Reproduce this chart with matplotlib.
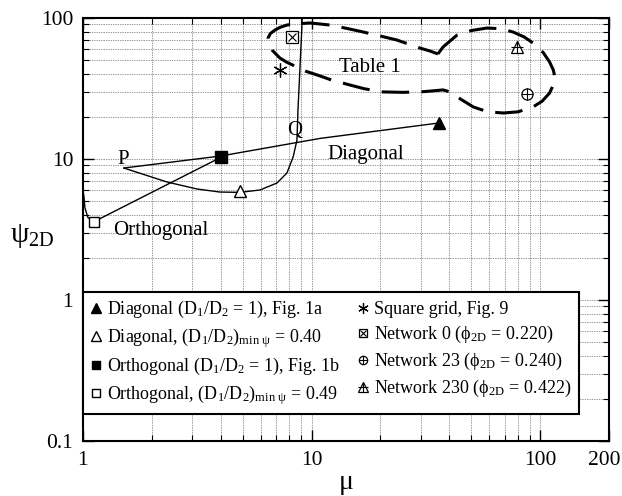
import numpy as np
import matplotlib
matplotlib.use("Agg")
import matplotlib.pyplot as plt
import matplotlib.transforms as mtransforms
from matplotlib.legend_handler import HandlerTuple
from matplotlib.ticker import NullFormatter

# Diagonal arrangement, D1/D2 = 1 (upper branch from P)
diag_mu = [1.51, 4.0, 10.9, 36.0]
diag_psi = [8.63, 10.5, 14.0, 18.0]

# Diagonal arrangement, varying D1/D2 (lower branch from P up through Q)
diag_var_mu = [1.51, 2.33, 3.15, 3.97, 4.86, 5.95, 7.06, 7.8, 8.3, 8.63, 8.72, 8.9, 9.05, 9.1]
diag_var_psi = [8.63, 6.87, 6.13, 5.83, 5.8, 6.03, 6.76, 7.96, 10.3, 13.6, 22.3, 45.0, 80.0, 100.0]

# Orthogonal arrangement
orth_mu = [1.0, 1.01, 1.02, 1.05, 1.12, 4.02]
orth_psi = [6.0, 5.4, 4.5, 3.85, 3.6, 10.3]

# single points
diag_one = (36.0, 18.0)
diag_min = (4.86, 5.9)
orth_one = (4.02, 10.3)
orth_min = (1.12, 3.6)
square_grid = (7.3, 43.0)
network_0 = (8.2, 73.0)
network_23 = (87.5, 29.0)
network_230 = (79.0, 62.0)

# outline of the Table 1 cases
table_mu = [35.7, 37.6, 43.3, 50.0, 58.5, 67.0, 76.0, 85.0, 93.0, 103.0, 110.0, 114.0, 116.0,
            114.0, 110.0, 102.0, 93.0, 80.0, 69.0, 59.0, 51.0, 45.0, 40.3, 37.6,
            33.0, 29.8, 25.0, 20.5, 17.0, 14.7, 12.3, 10.6, 9.4, 8.63, 7.8, 7.27, 6.71,
            6.5, 6.45, 6.6, 6.92, 7.3, 7.81, 8.7, 9.84, 12.0, 14.2, 16.8, 20.0, 23.6,
            26.8, 29.8, 33.0, 35.7]
table_psi = [55.6, 62.3, 75.7, 81.5, 84.9, 84.0, 79.6, 73.5, 66.5, 57.0, 48.7, 43.0, 38.2,
             33.5, 29.4, 25.7, 23.4, 21.6, 21.2, 21.6, 23.4, 26.5, 29.9, 30.9,
             30.3, 29.9, 29.7, 29.9, 31.5, 33.5, 36.2, 39.4, 42.0, 44.9, 48.5, 52.0, 59.3,
             65.0, 72.1, 77.5, 82.2, 86.0, 89.2, 91.0, 92.2, 89.2, 84.5, 79.6, 74.5, 69.8,
             65.0, 61.2, 58.3, 55.6]

labels = [
    "Diagonal (D$_1$/D$_2$ = 1), Fig. 1a",
    "Diagonal, (D$_1$/D$_2$)$_{\\rm min\\ ψ}$ = 0.40",
    "Orthogonal (D$_1$/D$_2$ = 1), Fig. 1b",
    "Orthogonal, (D$_1$/D$_2$)$_{\\rm min\\ ψ}$ = 0.49",
    "Square grid, Fig. 9",
    "Network 0 (ϕ$_{\\rm 2D}$ = 0.220)",
    "Network 23 (ϕ$_{\\rm 2D}$ = 0.240)",
    "Network 230 (ϕ$_{\\rm 2D}$ = 0.422)",
]

plt.rcParams.update({
    "font.family": ["Liberation Serif", "DejaVu Serif"],
    "mathtext.fontset": "custom",
    "mathtext.rm": "Liberation Serif",
    "mathtext.it": "Liberation Serif:italic",
    "mathtext.bf": "Liberation Serif:bold",
})

fig = plt.figure(figsize=(6.22, 4.96), dpi=100)
ax = fig.add_axes([0.1334, 0.1109, 0.8457, 0.8528])
ax.set_xscale("log")
ax.set_yscale("log")
ax.set_xlim(1, 200)
ax.set_ylim(0.1, 100)

ax.grid(True, which="both", color="#333333", linestyle=(0, (1, 1.5)), linewidth=0.5)
ax.set_axisbelow(True)

ax.plot(diag_mu, diag_psi, color="black", lw=1.0)
ax.plot(diag_var_mu, diag_var_psi, color="black", lw=1.0)
ax.plot(orth_mu, orth_psi, color="black", lw=1.0)
ax.plot(table_mu, table_psi, color="black", lw=2.2, dashes=(9, 4))

ms = 9
h1, = ax.plot(*diag_one, "^", color="black", ms=ms, zorder=5)
h2, = ax.plot(*diag_min, "^", mfc="white", mec="black", mew=1.0, ms=ms, zorder=5)
h3, = ax.plot(*orth_one, "s", color="black", ms=8, zorder=5)
h4, = ax.plot(*orth_min, "s", mfc="white", mec="black", mew=1.0, ms=7, zorder=5)
h5, = ax.plot(*square_grid, marker=(6, 2, 0), color="black", mew=0.9, ms=10, ls="none", zorder=5)
h6a, = ax.plot(*network_0, "s", mfc="white", mec="black", mew=0.9, ms=8, zorder=5)
h6b, = ax.plot(*network_0, "x", color="black", mew=0.8, ms=6, zorder=6)
h7a, = ax.plot(*network_23, "o", mfc="white", mec="black", mew=0.9, ms=8, zorder=5)
h7b, = ax.plot(*network_23, "+", color="black", mew=0.8, ms=8, zorder=6)
h8a, = ax.plot(*network_230, "^", mfc="white", mec="black", mew=0.9, ms=9, zorder=5)
h8b, = ax.plot(*network_230, "+", color="black", mew=0.8, ms=9, zorder=6)

ax.text(1.42, 10.0, "P", fontsize=15, ha="left", va="center")
ax.text(7.8, 16.0, "Q", fontsize=15, ha="left", va="center")
ax.text(1.35, 3.13, "Orthogonal", fontsize=15, ha="left", va="center")
ax.text(11.7, 10.7, "Diagonal", fontsize=15, ha="left", va="center")
ax.text(18.0, 44.9, "Table 1", fontsize=15, ha="center", va="center")

leg = ax.legend(
    [h1, h2, h3, h4, h5, (h6a, h6b), (h7a, h7b), (h8a, h8b)],
    labels,
    handler_map={tuple: HandlerTuple(ndivide=1, pad=0)},
    ncol=2,
    loc="lower left",
    bbox_to_anchor=(0, 0.064, 0.943, 0.288),
    mode="expand",
    borderaxespad=0,
    fontsize=13,
    markerscale=0.75,
    handlelength=0.6,
    handletextpad=0.35,
    columnspacing=0.4,
    labelspacing=0.32,
    borderpad=0.4,
    fancybox=False,
    framealpha=1,
    edgecolor="black",
)
leg.get_frame().set_linewidth(1.5)

ax.set_xticks([1, 10, 100, 200], ["1", "10", "100", "200"])
ax.set_yticks([0.1, 1, 10, 100], ["0.1", "1", "10", "100"])
ax.xaxis.set_minor_formatter(NullFormatter())
ax.yaxis.set_minor_formatter(NullFormatter())
ax.tick_params(which="both", direction="in", top=True, right=True, labelsize=15.5)
ax.tick_params(which="major", length=8, width=1.0, pad=7)
ax.tick_params(which="minor", length=4, width=0.8)
for side in ax.spines.values():
    side.set_linewidth(1.5)

last = ax.get_xticklabels()[-1]
last.set_transform(last.get_transform() + mtransforms.ScaledTranslation(-5 / 100, 0, fig.dpi_scale_trans))

ax.text(-0.139, 0.485, "ψ$_{\\rm 2D}$", transform=ax.transAxes, fontsize=21, ha="left", va="center")
ax.set_xlabel("μ", fontsize=20, labelpad=0)

fig.savefig("out.png", dpi=100)
